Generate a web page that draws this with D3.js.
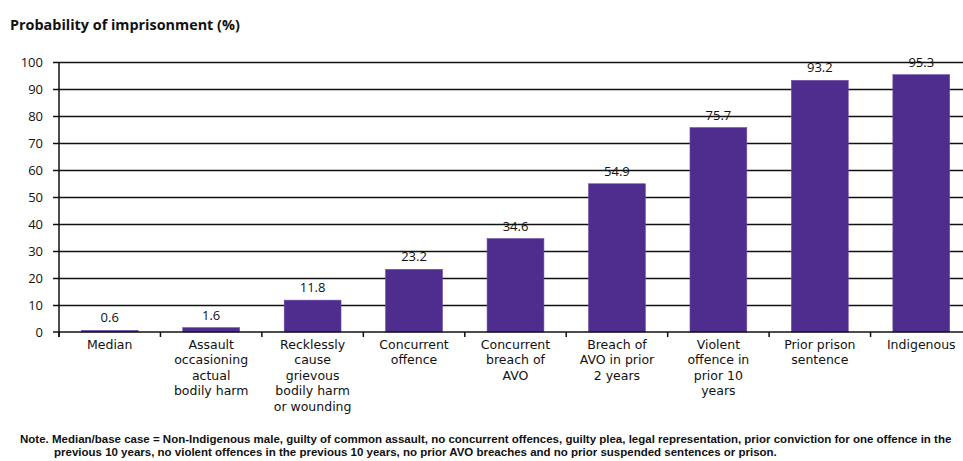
<!DOCTYPE html>
<html><head><meta charset="utf-8">
<script src="https://cdn.jsdelivr.net/npm/d3@7"></script>
<style>body{margin:0;background:#fff}svg{display:block}</style>
</head><body>
<svg id="c" width="963" height="461"></svg>
<script>
const categories = [
  ["Median"],
  ["Assault","occasioning","actual","bodily harm"],
  ["Recklessly","cause","grievous","bodily harm","or wounding"],
  ["Concurrent","offence"],
  ["Concurrent","breach of","AVO"],
  ["Breach of","AVO in prior","2 years"],
  ["Violent","offence in","prior 10","years"],
  ["Prior prison","sentence"],
  ["Indigenous"]
];
const values = [0.6, 1.6, 11.8, 23.2, 34.6, 54.9, 75.7, 93.2, 95.3];
const yTicks = [0,10,20,30,40,50,60,70,80,90,100];
const title = "Probability of imprisonment (%)";
const noteLines = [
  "Note. Median/base case = Non-Indigenous male, guilty of common assault, no concurrent offences, guilty plea, legal representation, prior conviction for one offence in the",
  "previous 10 years, no violent offences in the previous 10 years, no prior AVO breaches and no prior suspended sentences or prison."
];

(function(){
const svg = d3.select("#c");
const font = "'Open Sans', sans-serif";
const labFont = "'DejaVu Sans', sans-serif";
const noteFont = "'Liberation Sans', Arial, sans-serif";
const mLeft = 59, mRight = 972, mTop = 62, mBottom = 332;
const keys = categories.map((d,i)=>i);
const x = d3.scaleBand().domain(keys).range([mLeft, mRight]).paddingInner(0.44).paddingOuter(0.22);
const xb = d3.scaleBand().domain(keys).range([mLeft, mRight]);
const y = d3.scaleLinear().domain([0,100]).range([mBottom, mTop]);

svg.append("text").attr("x",10).attr("y",30).attr("font-family",font).attr("font-weight",700)
  .attr("font-size",14.4).attr("fill","#111").text(title);

const yAxis = d3.axisLeft(y).tickValues(yTicks.slice(1)).tickSize(-(963-mLeft)).tickPadding(10).tickFormat(d3.format("d"));
const gy = svg.append("g").attr("transform",`translate(${mLeft},0)`).call(yAxis);
gy.select(".domain").remove();
gy.selectAll(".tick line").attr("x1",-6).attr("stroke","#111").attr("stroke-width",1.5);
gy.selectAll(".tick text").attr("font-family",font).attr("font-size",13).attr("fill","#111").attr("x",-16);

svg.append("line").attr("x1",mLeft).attr("x2",mLeft).attr("y1",y(100)).attr("y2",mBottom+5).attr("stroke","#111").attr("stroke-width",1.5);
svg.append("text").attr("x",43).attr("y",y(0)).attr("dy","0.35em").attr("text-anchor","end")
  .attr("font-family",font).attr("font-size",13).attr("fill","#111").text(String(yTicks[0]));

svg.append("g").selectAll("rect").data(values).join("rect")
  .attr("x",(d,i)=>x(i)).attr("width",x.bandwidth())
  .attr("y",d=>y(d)).attr("height",d=>y(0)-y(d))
  .attr("fill","#4f2d8f").attr("stroke","#6a4aa6").attr("stroke-width",0.6);

svg.append("line").attr("x1",mLeft-6).attr("x2",963).attr("y1",mBottom).attr("y2",mBottom).attr("stroke","#111").attr("stroke-width",1.5);
svg.append("g").selectAll("line").data(keys).join("line")
  .attr("x1",i=>xb(i)).attr("x2",i=>xb(i)).attr("y1",mBottom).attr("y2",mBottom+5)
  .attr("stroke","#111").attr("stroke-width",1.5);

svg.append("g").selectAll("text").data(values).join("text")
  .attr("x",(d,i)=>x(i)+x.bandwidth()/2).attr("y",d=>y(d)-8)
  .attr("text-anchor","middle").attr("font-family",font).attr("font-size",13).attr("fill","#111")
  .text(d=>d.toFixed(1));

const cl = svg.append("g").selectAll("text").data(categories).join("text")
  .attr("x",(d,i)=>xb(i)+xb.bandwidth()/2).attr("y",349)
  .attr("text-anchor","middle").attr("font-family",labFont).attr("font-size",12.5).attr("fill","#111");
cl.selectAll("tspan").data((d,i)=>d.map(t=>({t,i}))).join("tspan")
  .attr("x",d=>xb(d.i)+xb.bandwidth()/2).attr("dy",(d,j)=>j===0?0:15.4).text(d=>d.t);

svg.append("text").attr("x",20).attr("y",443).attr("font-family",noteFont).attr("font-size",11.5).attr("font-weight",700).attr("fill","#111").text(noteLines[0]);
svg.append("text").attr("x",54).attr("y",456).attr("font-family",noteFont).attr("font-size",11.5).attr("font-weight",700).attr("fill","#111").text(noteLines[1]);
})();
</script>
</body></html>
